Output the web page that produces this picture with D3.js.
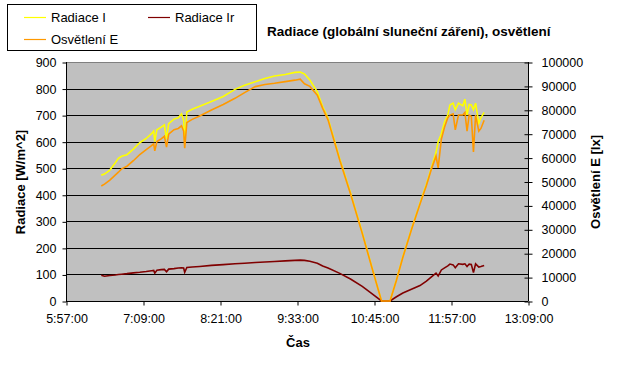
<!DOCTYPE html>
<html>
<head>
<meta charset="utf-8">
<script src="https://cdn.jsdelivr.net/npm/d3@7"></script>
<style>
    body { margin: 0; background: #fff; }
    text { font-family: "Liberation Sans", Arial, sans-serif; }
</style>
</head>
<body>
<div id="graphContainer"></div>
<script>
"use strict";
// time of measurement (h:mm)
const times = ["6:30", "6:33", "6:38", "6:43", "6:46", "6:49", "6:54", "7:00", "7:06", "7:12",
    "7:17", "7:19", "7:20", "7:22", "7:26", "7:29", "7:31", "7:33", "7:38", "7:42",
    "7:45", "7:47", "7:48", "7:50", "7:55", "8:02", "8:13", "8:24", "8:35", "8:44",
    "8:54", "9:03", "9:12", "9:22", "9:31", "9:36", "9:40", "9:45", "9:52", "9:57",
    "10:02", "10:13", "10:23", "10:34", "10:43", "10:52", "11:00", "11:06", "11:12", "11:20",
    "11:28", "11:34", "11:39", "11:43", "11:45", "11:48", "11:51", "11:54", "11:56", "11:59",
    "12:01", "12:04", "12:08", "12:10", "12:12", "12:14", "12:16", "12:18", "12:20", "12:23",
    "12:25", "12:28"]
// Radiace I [W/m^2]
const radiaceI = [474, 478, 493, 520, 537, 545, 551, 572, 596, 612,
    630, 640, 600, 645, 655, 663, 610, 668, 685, 690,
    705, 680, 600, 712, 722, 733, 751, 770, 797, 812,
    826, 838, 847, 853, 861, 862, 855, 832, 788, 732,
    688, 535, 408, 258, 128, 0, 0, 80, 167, 270,
    368, 440, 506, 560, 600, 630, 675, 700, 738, 745,
    720, 745, 735, 760, 700, 740, 738, 720, 745, 669,
    690, 710]
// Radiace Ir [W/m^2]
const radiaceIr = [97, 93, 96, 98, 100, 101, 103, 106, 108, 111,
    114, 115, 105, 116, 118, 119, 110, 120, 122, 124,
    125, 124, 108, 126, 128, 130, 134, 137, 140, 142,
    145, 147, 149, 151, 153, 154, 153, 150, 142, 132,
    124, 104, 83, 55, 28, 0, 0, 16, 30, 44,
    58, 75, 92, 105, 94, 117, 125, 132, 139, 136,
    125, 140, 138, 140, 130, 139, 138, 107, 140, 128,
    130, 134]
// Osvetleni E [lx]
const osvetleniE = [48100, 48900, 50600, 52700, 53900, 55300, 56400, 58700, 61300, 63300,
    65000, 65800, 62800, 66700, 67800, 68900, 64400, 69800, 71700, 72200,
    73300, 71100, 63900, 74700, 76000, 77400, 79900, 82200, 84800, 87200,
    89700, 90600, 91100, 91800, 92400, 92800, 90900, 89800, 86100, 80600,
    75800, 58900, 44900, 28300, 14000, 0, 0, 8700, 18300, 29800,
    40600, 48300, 55600, 60600, 55700, 67800, 72800, 76700, 77800, 78300,
    71600, 77800, 77800, 78900, 71100, 77800, 77200, 62400, 77800, 71100,
    72200, 75600]
const xTicks = ["5:57", "7:09", "8:21", "9:33", "10:45", "11:57", "13:09"]
const leftTicks = [0, 100, 200, 300, 400, 500, 600, 700, 800, 900]
const rightTicks = [0, 10000, 20000, 30000, 40000, 50000, 60000, 70000, 80000, 90000, 100000]

const colors = {
    "Radiace I": "#FFFF00",
    "Radiace Ir": "#800000",
    "Osvětlení E": "#FF9900"
}

const measurements = { width: 631, height: 365, left: 66, right: 528, top: 62, bottom: 301 }

const toMin = (s) => { const p = s.split(":"); return +p[0] * 60 + +p[1] }

const svgContainer = d3.select("#graphContainer").append("svg")
    .attr("width", measurements.width)
    .attr("height", measurements.height)

const scaleX = d3.scaleLinear()
    .domain([toMin(xTicks[0]), toMin(xTicks[xTicks.length - 1])])
    .range([measurements.left, measurements.right])
const scaleY = d3.scaleLinear().domain([0, 900]).range([measurements.bottom, measurements.top])
const scaleY2 = d3.scaleLinear().domain([0, 100000]).range([measurements.bottom, measurements.top])

// plot area
svgContainer.append("rect")
    .attr("x", measurements.left).attr("y", measurements.top)
    .attr("width", measurements.right - measurements.left)
    .attr("height", measurements.bottom - measurements.top)
    .attr("fill", "#C0C0C0")
svgContainer.append("line")
    .attr("x1", measurements.left).attr("x2", measurements.right)
    .attr("y1", measurements.top + 0.5).attr("y2", measurements.top + 0.5)
    .attr("stroke", "#808080")

// gridlines
svgContainer.append("g").selectAll("line")
    .data(leftTicks.slice(1, -1))
    .enter().append("line")
    .attr("x1", measurements.left).attr("x2", measurements.right)
    .attr("y1", (d) => Math.round(scaleY(d)) + 0.5)
    .attr("y2", (d) => Math.round(scaleY(d)) + 0.5)
    .attr("stroke", "#000")

// axes
const yAxis = d3.axisLeft(scaleY).tickValues(leftTicks).tickSize(4).tickPadding(6)
const yAxis2 = d3.axisRight(scaleY2).tickValues(rightTicks).tickSize(4).tickPadding(9)
    .tickFormat(d3.format("d"))
const xAxis = d3.axisBottom(scaleX).tickValues(xTicks.map(toMin)).tickSize(4).tickPadding(9)
    .tickFormat((d) => Math.floor(d / 60) + ":" + String(d % 60).padStart(2, "0") + ":00")

const gLeft = svgContainer.append("g")
    .attr("transform", "translate(" + (measurements.left + 0.5) + ",0.5)")
    .call(yAxis)
const gRight = svgContainer.append("g")
    .attr("transform", "translate(" + (measurements.right + 0.5) + ",0.5)")
    .call(yAxis2)
gRight.selectAll(".tick line").attr("x1", -4)
const gBottom = svgContainer.append("g")
    .attr("transform", "translate(0.5," + (measurements.bottom + 0.5) + ")")
    .call(xAxis)

svgContainer.selectAll(".domain").attr("stroke", "#000")
svgContainer.selectAll(".tick line").attr("stroke", "#000")
svgContainer.selectAll(".tick text")
    .attr("fill", "#000")
    .style("font-family", "'Liberation Sans', Arial, sans-serif")
    .style("font-size", "12.5px")
gLeft.select(".domain").attr("d", "M0," + (measurements.top - 0.5) + "V" + (measurements.bottom - 0.5))
gRight.select(".domain").attr("d", "M0," + (measurements.top - 0.5) + "V" + (measurements.bottom - 0.5))
gBottom.select(".domain").attr("d", "M" + (measurements.left - 0.5) + ",0H" + (measurements.right - 0.5))

// series
const rows = times.map((t, i) => ({
    t: toMin(t), rI: radiaceI[i], rIr: radiaceIr[i], e: osvetleniE[i]
}))
const line = (fx, fy) => d3.line().x(fx).y(fy)

svgContainer.append("path").datum(rows)
    .attr("fill", "none").attr("stroke", colors["Radiace I"]).attr("stroke-width", 1.6)
    .attr("d", line((d) => scaleX(d.t), (d) => scaleY(d.rI)))
svgContainer.append("path").datum(rows)
    .attr("fill", "none").attr("stroke", colors["Radiace Ir"]).attr("stroke-width", 1.6)
    .attr("d", line((d) => scaleX(d.t), (d) => scaleY(d.rIr)))
svgContainer.append("path").datum(rows)
    .attr("fill", "none").attr("stroke", colors["Osvětlení E"]).attr("stroke-width", 1.6)
    .attr("d", line((d) => scaleX(d.t), (d) => scaleY2(d.e)))

// axis titles
svgContainer.append("text")
    .attr("transform", "translate(25,182) rotate(-90)")
    .style("text-anchor", "middle").style("font-weight", "bold").style("font-size", "13px")
    .text("Radiace [W/m^2]")
svgContainer.append("text")
    .attr("transform", "translate(600,182) rotate(-90)")
    .style("text-anchor", "middle").style("font-weight", "bold").style("font-size", "13px")
    .text("Osvětlení E [lx]")
svgContainer.append("text")
    .attr("x", 298).attr("y", 347)
    .style("text-anchor", "middle").style("font-weight", "bold").style("font-size", "13px")
    .text("Čas")

// title
svgContainer.append("text")
    .attr("x", 267).attr("y", 36)
    .style("font-weight", "bold").style("font-size", "13.5px")
    .text("Radiace (globální sluneční záření), osvětlení")

// legend
svgContainer.append("rect")
    .attr("x", 7.5).attr("y", 4.5).attr("width", 249).attr("height", 46)
    .attr("fill", "#fff").attr("stroke", "#000")
const legendPos = [
    { name: "Radiace I", x: 24, y: 17 },
    { name: "Radiace Ir", x: 148, y: 17 },
    { name: "Osvětlení E", x: 24, y: 39 }
]
legendPos.forEach((p) => {
    svgContainer.append("line")
        .attr("x1", p.x).attr("x2", p.x + 22)
        .attr("y1", p.y + 0.5).attr("y2", p.y + 0.5)
        .attr("stroke", colors[p.name]).attr("stroke-width", 1.2)
    svgContainer.append("text")
        .attr("x", p.x + 27).attr("y", p.y + 5)
        .style("font-size", "13px")
        .text(p.name)
})
</script>
</body>
</html>
